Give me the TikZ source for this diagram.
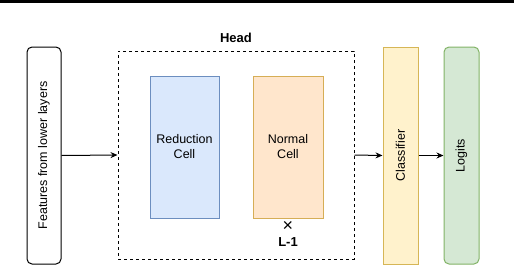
\documentclass[tikz,border=0pt]{standalone}
\usepackage{fontspec}
\setmainfont{Liberation Sans}
\usetikzlibrary{arrows.meta}
\definecolor{redfill}{HTML}{DAE8FC}
\definecolor{redline}{HTML}{6C8EBF}
\definecolor{normfill}{HTML}{FFE6CC}
\definecolor{normline}{HTML}{D6AE56}
\definecolor{clsfill}{HTML}{FFF2CC}
\definecolor{clsline}{HTML}{D6B656}
\definecolor{logfill}{HTML}{D5E8D4}
\definecolor{logline}{HTML}{82B366}
\tikzset{
  block/.style={draw, line width=1pt, inner sep=0pt},
  lbl/.style={font=\fontsize{12.5}{15}\selectfont, align=center},
  flow/.style={line width=1pt, -{Stealth[length=7pt,width=6pt]}}
}
\begin{document}
\begin{tikzpicture}[x=1pt,y=-1pt]
  \useasboundingbox (0,0) rectangle (514,266);
  \draw[line width=3pt] (0,1.5) -- (514,1.5);
  % input and head
  \node[block, rounded corners=5pt, minimum width=34pt, minimum height=217pt] (feat) at (44,155.5) {};
  \node[lbl, rotate=90] (featlbl) at (feat) {Features from lower layers};
  \node[draw, line width=1pt, dash pattern=on 3pt off 3pt, inner sep=0pt,
        minimum width=236pt, minimum height=208pt] (head) at (236,155) {};
  \node[lbl, font=\fontsize{13}{15}\selectfont\bfseries] (headlbl) at (236,38) {Head};
  \node[block, fill=redfill, draw=redline, minimum width=69pt, minimum height=142pt] (red) at (184.5,147) {};
  \node[lbl] (redlbl) at (red) {Reduction\\Cell};
  \node[block, fill=normfill, draw=normline, minimum width=70pt, minimum height=142pt] (norm) at (288,147) {};
  \node[lbl] (normlbl) at (norm) {Normal\\Cell};
  \node[lbl, font=\fontsize{18}{18}\selectfont] (times) at (288,226) {×};
  \node[lbl, font=\fontsize{13}{15}\selectfont\bfseries] (reps) at (288,242) {L-1};
  % output side
  \node[block, fill=clsfill, draw=clsline, minimum width=35pt, minimum height=217pt] (cls) at (400.5,155.5) {};
  \node[lbl, rotate=90] (clslbl) at (cls) {Classifier};
  \node[block, rounded corners=5pt, fill=logfill, draw=logline, minimum width=35pt, minimum height=217pt] (logit) at (461.5,155.5) {};
  \node[lbl, rotate=90] (logitlbl) at (logit) {Logits};
  \draw[flow] (feat.east) -- (head.west);
  \draw[flow] (head.east) -- (cls.west);
  \draw[flow] (cls.east) -- (logit.west);
\end{tikzpicture}
\end{document}
